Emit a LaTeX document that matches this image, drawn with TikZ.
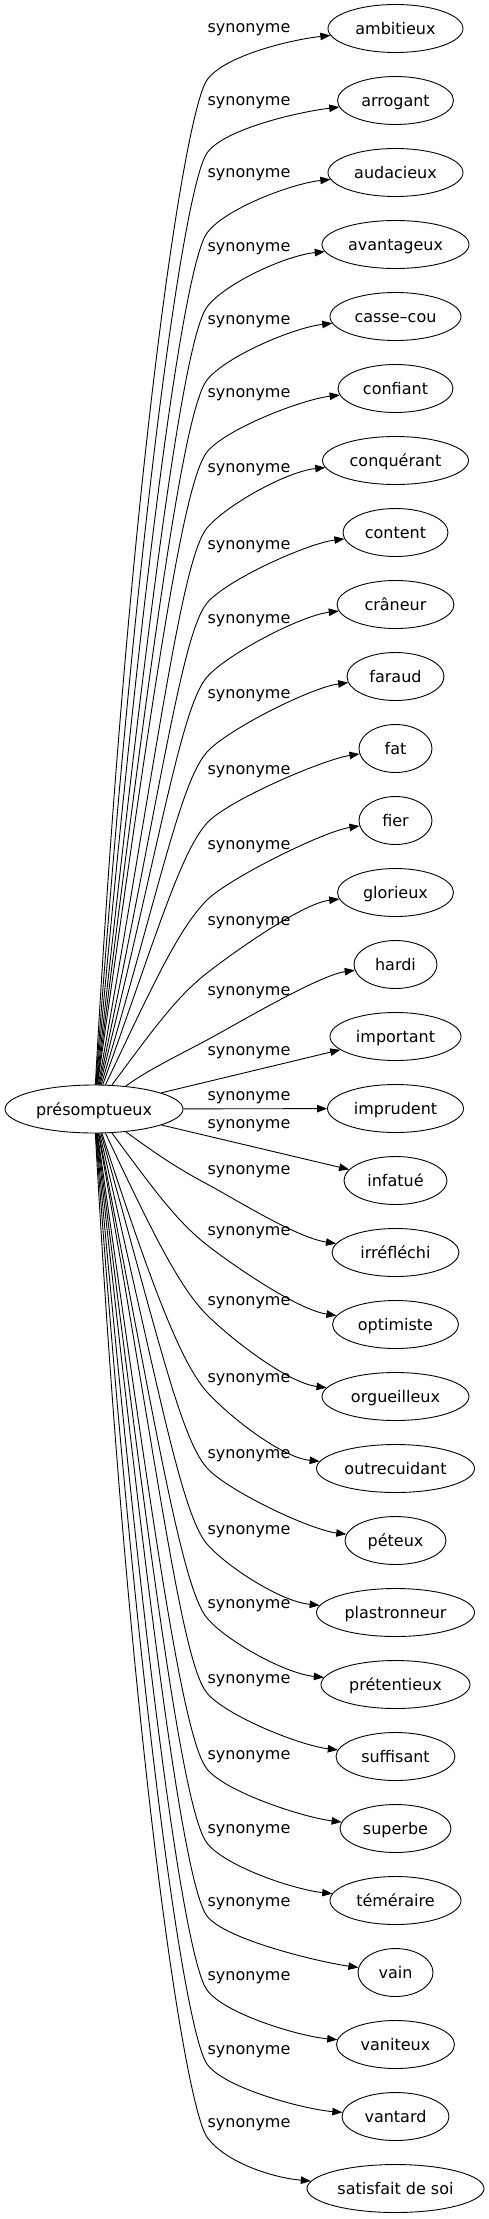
\documentclass[tikz,border=0pt]{standalone}
\usepackage{fontspec}
\setmainfont{DejaVu Sans}
\usetikzlibrary{arrows.meta,shapes.geometric}
\begin{document}
\begin{tikzpicture}[x=1pt,y=-1pt,
  tgt/.style={draw, ellipse, line width=0.9pt, minimum height=48pt, inner sep=0pt,
    text height=12pt, text depth=0pt, font=\fontsize{16}{19}\selectfont},
  lbl/.style={inner sep=0pt, font=\fontsize{16}{19}\selectfont},
  syn/.style={draw, line width=0.9pt, -{Triangle[length=10pt,width=7.5pt]}}]
\useasboundingbox (0,0) rectangle (489,2219);
\node[tgt, minimum width=178pt] (c) at (94,1109) {présomptueux};
\foreach \i/\nm/\w in {0/ambitieux/135, 1/arrogant/116, 2/audacieux/135, 3/avantageux/147,
  4/casse–cou/131, 5/confiant/115, 6/conquérant/146, 7/content/105, 8/crâneur/117,
  9/faraud/97, 10/fat/73, 11/fier/73, 12/glorieux/116, 13/hardi/83, 14/important/131,
  15/imprudent/136, 16/infatué/103, 17/irréfléchi/127, 18/optimiste/126,
  19/orgueilleux/147, 20/outrecuidant/158, 21/péteux/101, 22/plastronneur/158,
  23/prétentieux/149, 24/suffisant/119, 25/superbe/111, 26/téméraire/131, 27/vain/75,
  28/vaniteux/118, 29/vantard/107, 30/satisfait de soi/177} {
  \node[tgt, minimum width=\w pt] (t\i) at (395.5,{28.5+72*\i}) {\nm};
}
\foreach \i/\ly in {0/30, 1/103, 2/175, 3/249, 4/322, 5/395, 6/470, 7/547, 8/621, 9/696,
  10/772, 11/847, 12/923, 13/993, 14/1053, 15/1098, 16/1126, 17/1172, 18/1233, 19/1303,
  20/1380, 21/1456, 22/1532, 23/1606, 24/1681, 25/1757, 26/1831, 27/1904, 28/1978,
  29/2052, 30/2125} {
  \node[lbl] (l\i) at (249,\ly) {synonyme};
}
% upper edges
\foreach \i/\w/\kn/\xs/\alp/\tht in {0/135/80/97/87/55, 1/116/153/97/86/55, 2/135/233/97/85/54,
  3/147/307/98/84/53, 4/131/380/98/83/52, 5/115/452/98/82/51, 6/146/528/99/80/50,
  7/105/603/99/78/50, 8/117/677/100/76/49, 9/97/752/100/73/48, 10/73/823/102/70/48,
  11/73/900/104/64/45, 12/116/973/110/52/38, 13/83/1040/125/33/28} {
  \pgfmathsetmacro\D{1085-\kn}
  \pgfmathsetmacro\cax{\xs+0.6*\D*cos(\alp)}
  \pgfmathsetmacro\cay{1085-0.6*\D*sin(\alp)}
  \pgfmathsetmacro\cbx{207-40*cos(\tht)}
  \pgfmathsetmacro\cby{\kn+40*sin(\tht)}
  \pgfmathsetmacro\ccx{207+30*cos(\tht)}
  \pgfmathsetmacro\ccy{\kn-30*sin(\tht)}
  \pgfmathsetmacro\cdx{395.5-\w/2-36}
  \pgfmathsetmacro\cdy{28.5+72*\i+11}
  \draw[syn] (c) .. controls (\cax,\cay) and (\cbx,\cby) .. (207,\kn)
    .. controls (\ccx,\ccy) and (\cdx,\cdy) .. (t\i);
}
% middle edges
\draw[syn] (c) -- (t14);
\draw[syn] (c) -- (t15);
\draw[syn] (c) -- (t16);
% lower edges
\foreach \i/\w/\kn/\xs/\alp/\tht/\ad in {17/127/1184/125/33/28/15, 18/126/1245/110/52/38/15,
  19/147/1315/104/64/45/14, 20/158/1392/102/72/48/11, 21/101/1468/100/74/48/11,
  22/158/1544/100/77/49/11, 23/149/1618/99/79/50/11, 24/119/1693/99/80/50/11,
  25/111/1769/98/82/51/11, 26/131/1843/98/83/52/11, 27/75/1916/98/84/53/10,
  28/118/1990/97/85/54/8, 29/107/2064/97/86/55/7, 30/177/2137/97/87/55/11} {
  \pgfmathsetmacro\D{\kn-1133}
  \pgfmathsetmacro\cax{\xs+0.6*\D*cos(\alp)}
  \pgfmathsetmacro\cay{1133+0.6*\D*sin(\alp)}
  \pgfmathsetmacro\cbx{207-40*cos(\tht)}
  \pgfmathsetmacro\cby{\kn-40*sin(\tht)}
  \pgfmathsetmacro\ccx{207+30*cos(\tht)}
  \pgfmathsetmacro\ccy{\kn+30*sin(\tht)}
  \pgfmathsetmacro\cdx{395.5-\w/2-36}
  \pgfmathsetmacro\cdy{28.5+72*\i-\ad}
  \draw[syn] (c) .. controls (\cax,\cay) and (\cbx,\cby) .. (207,\kn)
    .. controls (\ccx,\ccy) and (\cdx,\cdy) .. (t\i);
}
\end{tikzpicture}
\end{document}
